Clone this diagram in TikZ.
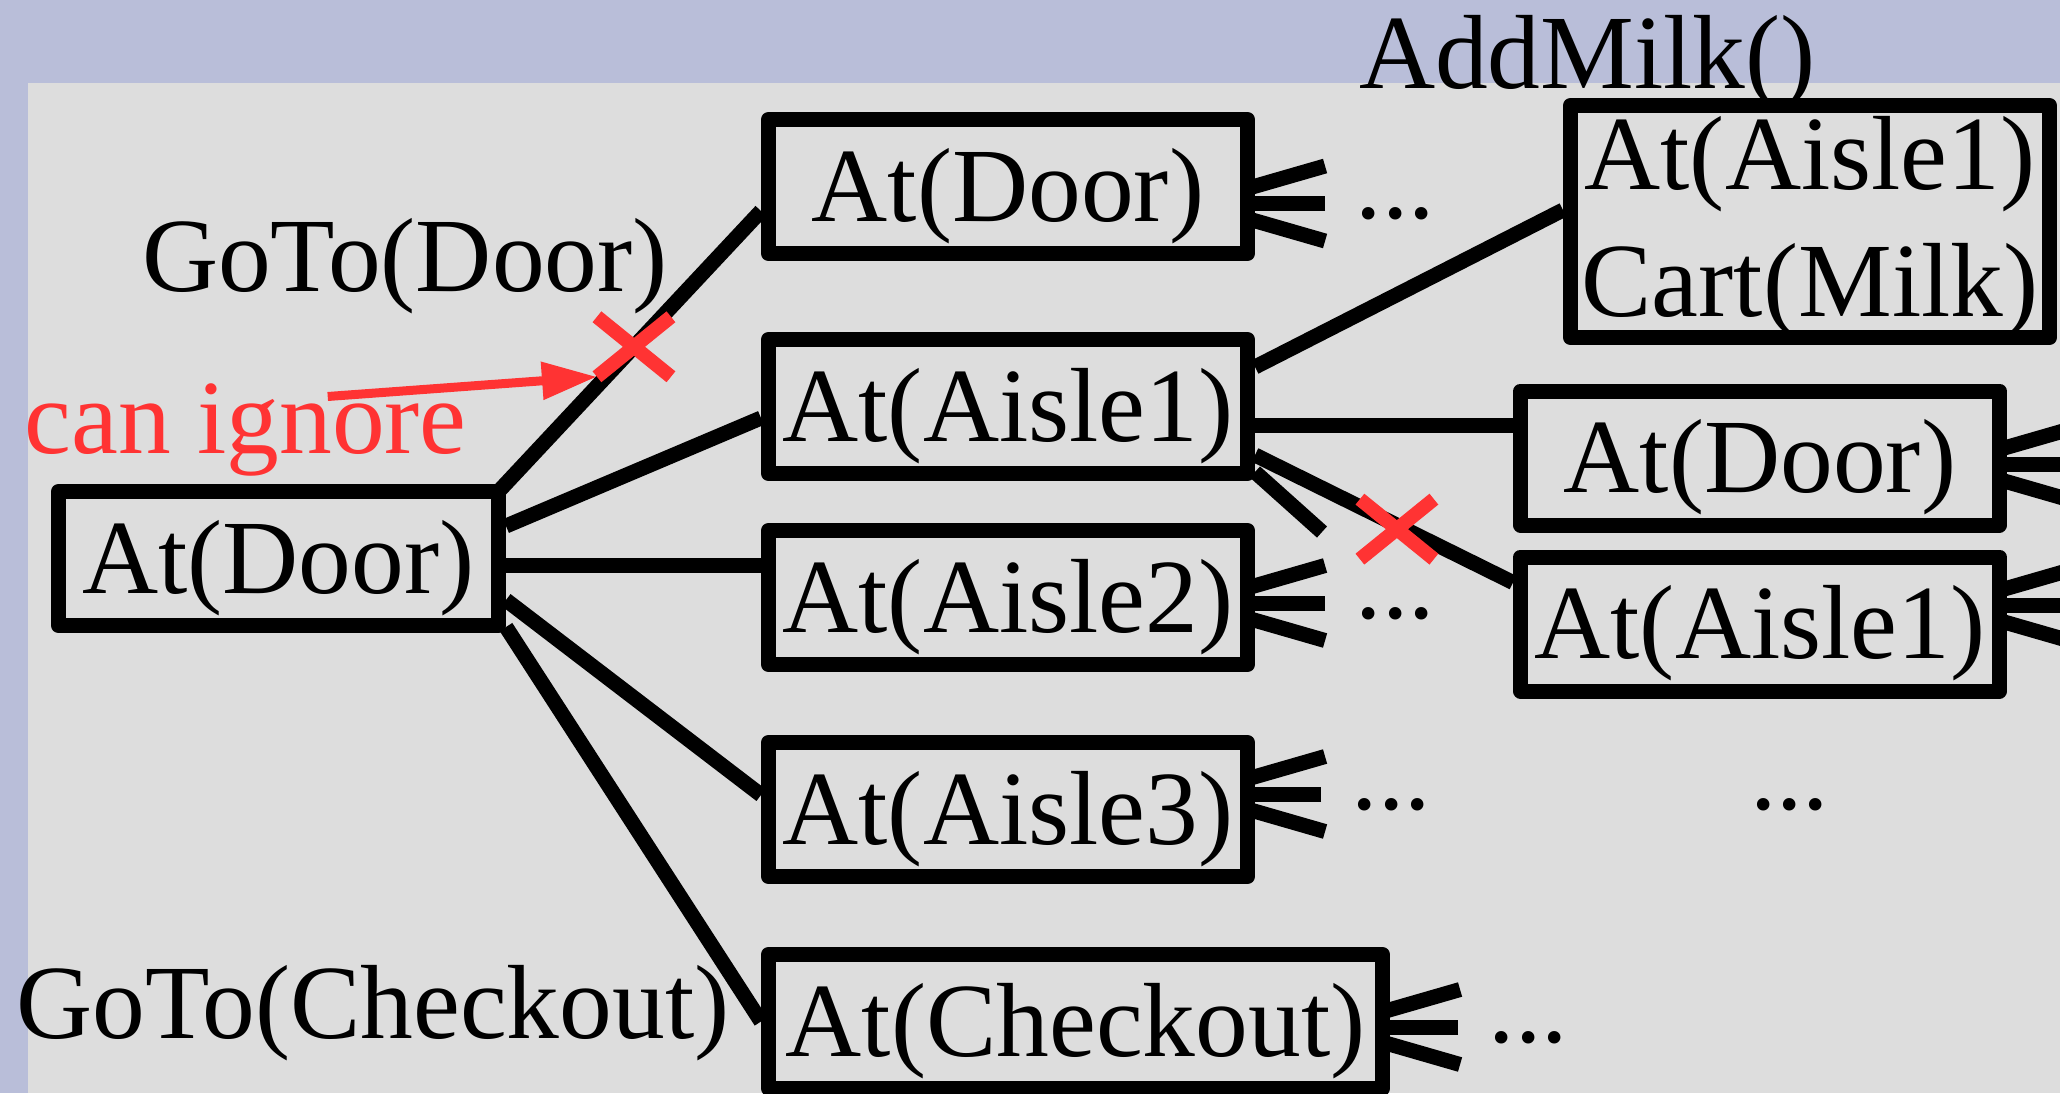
\documentclass[tikz,border=0pt]{standalone}
\usepackage{fontspec}
\setmainfont{Liberation Serif}
\usetikzlibrary{arrows.meta, positioning, shapes.misc, backgrounds}
\usepackage{xcolor}

\definecolor{slideblue}{RGB}{185,190,217}
\definecolor{slidegray}{RGB}{221,221,221}
\definecolor{ignorered}{RGB}{255,51,51}

\begin{document}
\begin{tikzpicture}[font=\fontsize{30}{33.4}\selectfont,
		state/.style={rectangle, draw, fill=slidegray, line width=0.15cm, line join=round, minimum width=4.79cm, minimum height=1.34cm, text height=0.69cm, text depth=0pt, inner sep=0pt},
		more/.style={inner xsep=0.3cm, inner ysep=0pt, text height=0.3cm, text depth=0pt},
		action/.style={inner sep=0pt},
		line/.style={draw, line width=0.15cm},
		foot/.style={line, -{Straight Barb[length=1.3cm, width=0.75cm]}, shorten >=-0.87cm},
		cut/.style={cross out, draw=ignorered, line width=0.14cm, minimum width=0.74cm, minimum height=0.6cm, inner sep=0pt, outer sep=0pt},
		pointer/.style={draw=ignorered, line width=0.09cm, -{Triangle[length=0.55cm, width=0.36cm]}}]
		
		\useasboundingbox (0,0) rectangle (20.6,-10.93);
		
		\node [state, minimum width=4.4cm] (root) at (2.785,-5.585) {At(Door)};
		\node [state, above right=2.23cm and 2.55cm of root] (door1) {At(Door)};
		\node [state, below=0.71cm of door1] (aisle1) {At(Aisle1)};
		\node [state, below=0.42cm of aisle1] (aisle2) {At(Aisle2)};
		\node [state, below=0.63cm of aisle2] (aisle3) {At(Aisle3)};
		\node [state, minimum width=6.14cm, below=0.63cm of aisle3.south west, anchor=north west] (checkout) {At(Checkout)};
		\node [state, minimum height=2.32cm, text height=1.89cm, align=center, right=3.08cm of door1, yshift=-0.35cm] (cart) {At(Aisle1)\\[0.09cm]Cart(Milk)};
		\node [state, right=2.58cm of aisle1, yshift=-0.515cm] (door2) {At(Door)};
		\node [state, below=0.17cm of door2] (aisle1r) {At(Aisle1)};
		
		\node [more, right=0.7cm of door1, yshift=-0.17cm] (more1) {...};
		\node [more, right=0.7cm of aisle2, yshift=-0.055cm] (more2) {...};
		\node [more, right=0.66cm of aisle3, yshift=0.155cm] (more3) {...};
		\node [more, right=2.58cm of more3] (more4) {...};
		\node [more, right=0.68cm of checkout, yshift=-0.055cm] (more5) {...};
		\coordinate [right=0.7cm of door2, yshift=-0.065cm] (out1);
		\coordinate [right=0.7cm of aisle1r, yshift=0.185cm] (out2);
		\coordinate [below right=0.51cm and 0.67cm of aisle1.south east] (stub);
		
		\node [action, above=-0.14cm of cart, xshift=-2.225cm] (milk) {AddMilk()};
		\node [action, text=ignorered, anchor=base west] (ignore) at (0.24,-4.53) {can ignore};
		
		\begin{scope}[on background layer]
			\fill [slideblue] (0,0) rectangle (20.6,-10.93);
			\fill [slidegray] (0.276,-0.83) rectangle (20.6,-10.93);
			
			% Liens
			\path [line] ([shift={(-0.075,-0.075)}]root.north east) -- node [cut, pos=0.516] (cut1) {} node [action, pos=0.608, anchor=south east, xshift=0.17cm] {GoTo(Door)} ([yshift=-0.245cm]door1.west);
			\path [line] ([yshift=0.325cm]root.east) -- ([yshift=-0.115cm]aisle1.west);
			\path [line] ([yshift=-0.065cm]root.east) -- ([yshift=0.325cm]aisle2.west);
			\path [line] ([yshift=-0.415cm]root.east) -- ([yshift=0.145cm]aisle3.west);
			\path [line] ([yshift=0.06cm]root.south east) -- node [action, pos=0.98, left=0.19cm] {GoTo(Checkout)} (checkout.west);
			\path [line] ([yshift=0.395cm]aisle1.east) -- ([yshift=0.115cm]cart.west);
			\path [line] ([yshift=-0.185cm]aisle1.east) -- ([yshift=0.33cm]door2.west);
			\path [line] ([yshift=-0.485cm]aisle1.east) -- node [cut, pos=0.55, yshift=-0.04cm] (cut2) {} ([yshift=0.415cm]aisle1r.west);
			\path [line] ([yshift=0.09cm]aisle1.south east) -- (stub);
			
			% Suites
			\path [foot] (more1.west) -- (more1.west -| door1.east);
			\path [foot] (more2.west) -- (more2.west -| aisle2.east);
			\path [foot] (more3.west) -- (more3.west -| aisle3.east);
			\path [foot] (more5.west) -- (more5.west -| checkout.east);
			\path [foot] (out1) -- (out1 -| door2.east);
			\path [foot] (out2) -- (out2 -| aisle1r.east);
		\end{scope}
		
		\coordinate (hint) at ([shift={(0.82,-0.14)}]ignore.north);
		\path [pointer] (hint) -- (cut1.south west);
		
	\end{tikzpicture}
\end{document}
